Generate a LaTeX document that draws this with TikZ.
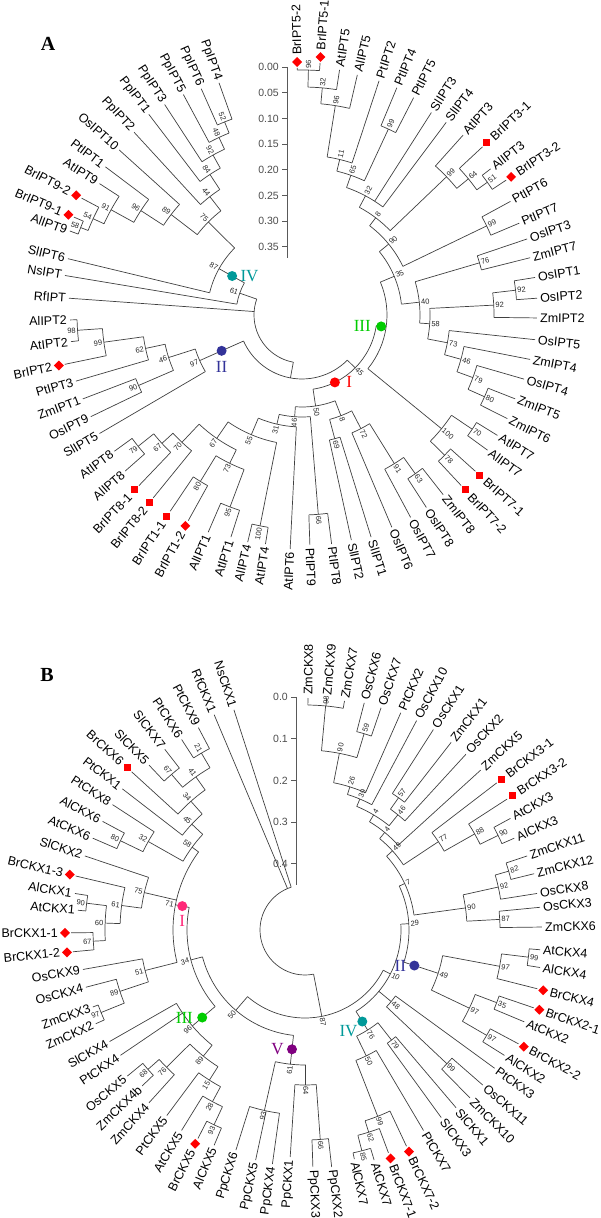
\documentclass[tikz,border=0pt]{standalone}
\usepackage{fontspec}
\setmainfont{Liberation Serif}
\setsansfont{Liberation Sans}
\usetikzlibrary{positioning}

\definecolor{mkred}{RGB}{255,0,0}
\definecolor{cI}{RGB}{255,0,0}
\definecolor{cIb}{RGB}{255,40,120}
\definecolor{cII}{RGB}{51,51,153}
\definecolor{cIII}{RGB}{0,204,0}
\definecolor{cIV}{RGB}{0,153,153}
\definecolor{cV}{RGB}{128,0,128}

\tikzset{
  branch/.style={draw=black!75, line width=0.7pt},
  leaflab/.style={font=\sffamily\fontsize{12.5}{13}\selectfont, inner sep=0pt},
  support/.style={font=\sffamily\fontsize{7.5}{8}\selectfont, inner sep=0.6pt, text=black!85},
  sqmark/.style={fill=mkred, minimum size=7pt, inner sep=0pt},
  dmmark/.style={sqmark, rotate=45},
  groupdot/.style={circle, minimum size=10pt, inner sep=0pt},
  groupnum/.style={font=\rmfamily\fontsize{17}{17}\selectfont, inner sep=0pt},
  panelmark/.style={font=\rmfamily\bfseries\fontsize{20}{20}\selectfont, inner sep=0pt},
  scaleaxis/.style={draw=black!65, line width=0.8pt},
  scalelab/.style={font=\sffamily\fontsize{10.5}{11}\selectfont, text=black!70, anchor=east, inner sep=0pt},
}

% panel centre in image pixels (y down)
\newcommand\pcx{0}
\newcommand\pcy{0}

% \leaf[mark]{id}{x}{y}{text}: label end, mark n/s/d
\newcommand\leaf[5][n]{%
  \pgfmathsetmacro\lfx{#3-\pcx}%
  \pgfmathsetmacro\lfy{\pcy-#4}%
  \pgfmathsetmacro\lfa{atan2(\lfy,\lfx)}%
  \pgfmathsetmacro\lfa{\lfa>100 ? \lfa-360 : \lfa}%
  \pgfmathsetmacro\lfr{veclen(\lfx,\lfy)}%
  \if#1n\pgfmathsetmacro\lft{\lfr-3}\else\pgfmathsetmacro\lft{\lfr-13}\fi
  \expandafter\xdef\csname ang@#2\endcsname{\lfa}%
  \expandafter\xdef\csname rad@#2\endcsname{\lft}%
  \pgfmathtruncatemacro\lfs{\lfa<-90 ? 1 : 0}%
  \ifnum\lfs=1
    \pgfmathsetmacro\lfo{\lfa+180}%
    \node[leaflab, anchor=east, rotate=\lfo] (#2) at (\lfa:\lfr) {#5};
  \else
    \node[leaflab, anchor=west, rotate=\lfa] (#2) at (\lfa:\lfr) {#5};
  \fi
  \if#1s\node[sqmark] (#2m) at (\lfa:\lfr-7) {};\fi
  \if#1d\node[dmmark] (#2m) at (\lfa:\lfr-7) {};\fi
}

% \clade{id}{radius}{children, clockwise}{support value}
\newcommand\clade[4]{%
  \gdef\cfirst{}%
  \foreach \kid in {#3}{%
    \xdef\kida{\csname ang@\kid\endcsname}%
    \xdef\kidr{\csname rad@\kid\endcsname}%
    \draw[branch] (\kida:#2) -- (\kida:\kidr);
    \ifx\cfirst\empty\xdef\cfirst{\kida}\fi
    \xdef\clast{\kida}%
  }%
  \draw[branch] (\cfirst:#2) arc[start angle=\cfirst, end angle=\clast, radius=#2];
  \pgfmathsetmacro\cmid{(\cfirst+\clast)/2}%
  \expandafter\xdef\csname ang@#1\endcsname{\cmid}%
  \expandafter\xdef\csname rad@#1\endcsname{#2}%
  \coordinate (#1) at (\cmid:#2);
  \if\relax\detokenize{#4}\relax\else
    \pgfmathtruncatemacro\cside{\cmid<-90 ? 1 : 0}%
    \ifnum\cside=1
      \pgfmathsetmacro\crot{\cmid+180}%
      \node[support, anchor=east, rotate=\crot] at (\cmid:#2+1) {#4};
    \else
      \node[support, anchor=west, rotate=\cmid] at (\cmid:#2+1) {#4};
    \fi
  \fi
}

\begin{document}
\begin{tikzpicture}[x=1pt, y=1pt]
\useasboundingbox (0,0) rectangle (600,1218);

%% ---------------- panel A ----------------
\node[panelmark] (labA) at (48,1174) {A};
\draw[scaleaxis] (287,1151) -- (287,960);
\foreach \t [count=\k from 0] in {0.00,0.05,0.10,0.15,0.20,0.25,0.30,0.35}{
  \draw[scaleaxis] (282,{1151-25.7*\k}) -- (287,{1151-25.7*\k});
  \node[scalelab] at (279,{1151-25.7*\k}) {\t};
}

\renewcommand\pcx{302}\renewcommand\pcy{315}
\begin{scope}[shift={(302,903)}]
\leaf[d]{a1}{297}{55}{BrIPT5-2}
\leaf[d]{a2}{321}{50}{BrIPT5-1}
\leaf{a3}{340}{67}{AtIPT5}
\leaf{a4}{358}{72}{AlIPT5}
\leaf{a5}{380}{78}{PtIPT2}
\leaf{a6}{398}{85}{PtIPT4}
\leaf{a7}{415}{95}{PtIPT5}
\leaf{a8}{433}{110}{SlIPT3}
\leaf{a9}{448}{120}{SlIPT4}
\leaf{a10}{465}{133}{AtIPT3}
\leaf[s]{a11}{492}{138}{BrIPT3-1}
\leaf{a12}{493}{167}{AlIPT3}
\leaf[d]{a13}{517}{173}{BrIPT3-2}
\leaf{a14}{513}{200}{PtIPT6}
\leaf{a15}{522}{222}{PtIPT7}
\leaf{a16}{530}{238}{OsIPT3}
\leaf{a17}{533}{257}{ZmIPT7}
\leaf{a18}{538}{277}{OsIPT1}
\leaf{a19}{540}{298}{OsIPT2}
\leaf{a20}{540}{318}{ZmIPT2}
\leaf{a21}{538}{340}{OsIPT5}
\leaf{a22}{533}{360}{ZmIPT4}
\leaf{a23}{527}{380}{OsIPT4}
\leaf{a24}{518}{400}{ZmIPT5}
\leaf{a25}{510}{420}{ZmIPT6}
\leaf{a26}{500}{437}{AtIPT7}
\leaf{a27}{490}{452}{AlIPT7}
\leaf[s]{a28}{485}{480}{BrIPT7-1}
\leaf[s]{a29}{470}{495}{BrIPT7-2}
\leaf{a30}{445}{497}{ZmIPT8}
\leaf{a31}{428}{510}{OsIPT8}
\leaf{a32}{412}{520}{OsIPT7}
\leaf{a33}{393}{530}{OsIPT6}
\leaf{a34}{372}{540}{SlIPT1}
\leaf{a35}{352}{543}{SlIPT2}
\leaf{a36}{332}{547}{PtIPT8}
\leaf{a37}{310}{548}{PtIPT9}
\leaf{a38}{290}{552}{AtIPT6}
\leaf{a39}{265}{547}{AtIPT4}
\leaf{a40}{247}{545}{AlIPT4}
\leaf{a41}{230}{540}{AtIPT1}
\leaf{a42}{207}{535}{AlIPT1}
\leaf[d]{a43}{182}{532}{BrIPT1-2}
\leaf[s]{a44}{163}{522}{BrIPT1-1}
\leaf[s]{a45}{145}{508}{BrIPT8-2}
\leaf[s]{a46}{130}{495}{BrIPT8-1}
\leaf{a47}{123}{473}{AlIPT8}
\leaf{a48}{112}{453}{AtIPT8}
\leaf{a49}{97}{435}{SlIPT5}
\leaf{a50}{88}{418}{OsIPT9}
\leaf{a51}{80}{400}{ZmIPT1}
\leaf{a52}{73}{382}{PtIPT3}
\leaf[d]{a53}{52}{367}{BrIPT2}
\leaf{a54}{68}{342}{AtIPT2}
\leaf{a55}{67}{320}{AlIPT2}
\leaf{a56}{66}{298}{RfIPT}
\leaf{a57}{62}{275}{NsIPT}
\leaf{a58}{65}{258}{SlIPT6}
\leaf{a59}{67}{230}{AlIPT9}
\leaf[d]{a60}{62}{212}{BrIPT9-1}
\leaf[d]{a61}{70}{192}{BrIPT9-2}
\leaf{a62}{97}{182}{AtIPT9}
\leaf{a63}{103}{165}{PtIPT1}
\leaf{a64}{117}{148}{OsIPT10}
\leaf{a65}{132}{130}{PpIPT2}
\leaf{a66}{147}{112}{PpIPT1}
\leaf{a67}{163}{102}{PpIPT3}
\leaf{a68}{182}{92}{PpIPT5}
\leaf{a69}{200}{86}{PpIPT6}
\leaf{a70}{218}{80}{PpIPT4}

\clade{p12}{245}{a1,a2}{96}
\clade{p123}{228}{p12,a3}{32}
\clade{p1234}{212}{p123,a4}{96}
\clade{p12345}{160}{p1234,a5}{11}
\clade{p67}{205}{a6,a7}{99}
\clade{pA}{148}{p12345,p67}{65}
\clade{pB}{135}{pA,a8,a9}{32}
\clade{q1213}{228}{a12,a13}{51}
\clade{q1113}{215}{a11,q1213}{64}
\clade{q3}{200}{a10,q1113}{99}
\clade{pC}{122}{pB,q3}{8}
\clade{q1415}{205}{a14,a15}{99}
\clade{pD}{112}{pC,q1415}{90}
\clade{r1617}{185}{a16,a17}{76}
\clade{r1819}{215}{a18,a19}{92}
\clade{r1820}{192}{r1819,a20}{92}
\clade{s80}{200}{a24,a25}{80}
\clade{s79}{182}{a23,s80}{79}
\clade{s46}{165}{a22,s79}{46}
\clade{s73}{148}{a21,s46}{73}
\clade{s58}{128}{r1820,s73}{58}
\clade{n40}{118}{r1617,s58}{40}
\clade{n35}{100}{pD,n40}{35}
\clade{g7a}{205}{a26,a27}{70}
\clade{g7b}{200}{a28,a29}{78}
\clade{g7}{180}{g7a,g7b}{100}
\clade{nIII}{85}{n35,g7}{}
\clade{n63}{195}{a30,a31}{63}
\clade{n91}{175}{n63,a32}{91}
\clade{n72}{128}{n91,a33}{72}
\clade{n69}{128}{a34,a35}{69}
\clade{nIa}{108}{n72,n69}{8}
\clade{n66}{200}{a36,a37}{66}
\clade{n100}{215}{a39,a40}{100}
\clade{n95}{205}{a41,a42}{95}
\clade{n80}{195}{a43,a44}{80}
\clade{n73}{165}{n95,n80}{73}
\clade{n79}{210}{a47,a48}{79}
\clade{n67b}{190}{a46,n79}{67}
\clade{n70}{175}{a45,n67b}{70}
\clade{n67}{150}{n73,n70}{67}
\clade{n55}{130}{n100,n67}{55}
\clade{n31}{112}{a38,n55}{31}
\clade{n46}{102}{n66,n31}{46}
\clade{nI}{92}{nIa,n46}{50}
\clade{n45}{75}{nIII,nI}{45}
\clade{t98}{225}{a54,a55}{98}
\clade{t99}{200}{a53,t98}{99}
\clade{t62}{160}{a52,t99}{62}
\clade{t90}{178}{a50,a51}{90}
\clade{t46}{140}{t90,t62}{46}
\clade{nII}{112}{a49,t46}{97}
\clade{big}{64}{n45,nII}{}
\clade{m58}{238}{a59,a60}{58}
\clade{m54}{230}{m58,a61}{54}
\clade{m91}{218}{m54,a62}{91}
\clade{m96}{192}{m91,a63}{96}
\clade{m89}{165}{m96,a64}{89}
\clade{m52}{208}{a69,a70}{52}
\clade{m48}{196}{a68,m52}{48}
\clade{m92}{183}{a67,m48}{92}
\clade{m84}{168}{a66,m92}{84}
\clade{m44}{150}{a65,m84}{44}
\clade{m75}{132}{m89,m44}{75}
\clade{nIV}{95}{a58,m75}{87}
\clade{n61}{66}{a57,nIV}{61}
\clade{rootA}{48}{big,a56,n61}{}

\edef\gda{\csname ang@nIV\endcsname}
\node[groupdot, fill=cIV] (dotAIV) at (\gda:80) {};
\edef\gda{\csname ang@nII\endcsname}
\node[groupdot, fill=cII] (dotAII) at (\gda:88) {};
\edef\gda{\csname ang@nIII\endcsname}
\node[groupdot, fill=cIII] (dotAIII) at (\gda:80) {};
\node[groupdot, fill=cI] (dotAI) at (-64:75) {};
\end{scope}

\node[groupnum, text=cIV, right=3pt of dotAIV] (numAIV) {IV};
\node[groupnum, text=cII, below=5pt of dotAII] (numAII) {II};
\node[groupnum, text=cIII, left=5pt of dotAIII] (numAIII) {III};
\node[groupnum, text=cI, right=6pt of dotAI] (numAI) {I};

%% ---------------- panel B ----------------
\node[panelmark] (labB) at (47,543) {B};
\draw[scaleaxis] (296,521) -- (296,333);
\foreach \t [count=\k from 0] in {0.0,0.1,0.2,0.3,0.4}{
  \draw[scaleaxis] (291,{521-41.7*\k}) -- (296,{521-41.7*\k});
  \node[scalelab] at (288,{521-41.7*\k}) {\t};
}

\renewcommand\pcx{305}\renewcommand\pcy{930}
\begin{scope}[shift={(305,288)}]
\leaf{b1}{308}{695}{ZmCKX8}
\leaf{b2}{327}{695}{ZmCKX9}
\leaf{b3}{345}{698}{ZmCKX7}
\leaf{b4}{365}{700}{OsCKX6}
\leaf{b5}{382}{705}{OsCKX7}
\leaf{b6}{402}{710}{PtCKX2}
\leaf{b7}{418}{718}{OsCKX10}
\leaf{b8}{435}{727}{OsCKX1}
\leaf{b9}{453}{740}{ZmCKX1}
\leaf{b10}{468}{752}{OsCKX2}
\leaf{b11}{483}{768}{ZmCKX5}
\leaf[s]{b12}{507}{775}{BrCKX3-1}
\leaf[s]{b13}{518}{792}{BrCKX3-2}
\leaf{b14}{513}{817}{AtCKX3}
\leaf{b15}{517}{837}{AlCKX3}
\leaf{b16}{530}{855}{ZmCKX11}
\leaf{b17}{537}{873}{ZmCKX12}
\leaf{b18}{540}{893}{OsCKX8}
\leaf{b19}{543}{907}{OsCKX3}
\leaf{b20}{545}{927}{ZmCKX6}
\leaf{b21}{543}{950}{AtCKX4}
\leaf{b22}{543}{968}{AlCKX4}
\leaf[d]{b23}{550}{992}{BrCKX4}
\leaf[d]{b24}{546}{1012}{BrCKX2-1}
\leaf{b25}{527}{1023}{AtCKX2}
\leaf[d]{b26}{530}{1050}{BrCKX2-2}
\leaf{b27}{507}{1057}{AlCKX2}
\leaf{b28}{497}{1070}{PtCKX3}
\leaf{b29}{485}{1087}{OsCKX11}
\leaf{b30}{472}{1100}{ZmCKX10}
\leaf{b31}{458}{1110}{SlCKX1}
\leaf{b32}{443}{1120}{SlCKX3}
\leaf{b33}{425}{1133}{PtCKX7}
\leaf[d]{b34}{412}{1158}{BrCKX7-2}
\leaf[d]{b35}{393}{1165}{BrCKX7-1}
\leaf{b36}{375}{1163}{AtCKX7}
\leaf{b37}{355}{1162}{AlCKX7}
\leaf{b38}{332}{1170}{PpCKX2}
\leaf{b39}{313}{1170}{PpCKX3}
\leaf{b40}{290}{1160}{PpCKX1}
\leaf{b41}{272}{1167}{PpCKX4}
\leaf{b42}{255}{1163}{PpCKX5}
\leaf{b43}{235}{1153}{PpCKX6}
\leaf{b44}{213}{1148}{AlCKX5}
\leaf[d]{b45}{192}{1150}{BrCKX5}
\leaf{b46}{180}{1133}{AtCKX5}
\leaf{b47}{165}{1118}{PtCKX5}
\leaf{b48}{147}{1105}{ZmCKX4}
\leaf{b49}{140}{1088}{ZmCKX4b}
\leaf{b50}{125}{1078}{OsCKX5}
\leaf{b51}{118}{1057}{PtCKX4}
\leaf{b52}{107}{1043}{SlCKX4}
\leaf{b53}{93}{1025}{ZmCKX2}
\leaf{b54}{90}{1008}{ZmCKX3}
\leaf{b55}{83}{988}{OsCKX4}
\leaf{b56}{80}{970}{OsCKX9}
\leaf[d]{b57}{60}{953}{BrCKX1-2}
\leaf[d]{b58}{58}{933}{BrCKX1-1}
\leaf{b59}{75}{910}{AtCKX1}
\leaf{b60}{72}{893}{AlCKX1}
\leaf[d]{b61}{63}{873}{BrCKX1-3}
\leaf{b62}{82}{855}{SlCKX2}
\leaf{b63}{90}{837}{AtCKX6}
\leaf{b64}{100}{820}{AlCKX6}
\leaf{b65}{110}{803}{PtCKX8}
\leaf{b66}{120}{787}{PtCKX1}
\leaf[s]{b67}{122}{763}{BrCKX6}
\leaf{b68}{147}{763}{SlCKX5}
\leaf{b69}{163}{747}{SlCKX7}
\leaf{b70}{180}{737}{PtCKX6}
\leaf{b71}{197}{725}{PtCKX9}
\leaf{b72}{213}{712}{RfCKX1}
\leaf{b73}{233}{707}{NsCKX1}

\clade{Bn98}{225}{b1,b2,b3}{98}
\clade{Bn59}{205}{b4,b5}{59}
\clade{Bn90a}{180}{Bn98,Bn59}{90}
\clade{Bn26}{150}{Bn90a,b6}{26}
\clade{Bn39}{142}{Bn26,b7}{39}
\clade{Bn57}{162}{b8,b9}{57}
\clade{Bn46}{148}{Bn57,b10}{46}
\clade{Bn4}{134}{Bn39,Bn46}{4}
\clade{Bn7a}{126}{Bn4,b11}{4}
\clade{Bn90c}{215}{b14,b15}{90}
\clade{Bn88}{195}{b13,Bn90c}{88}
\clade{Bn77}{160}{b12,Bn88}{77}
\clade{Bn49a}{118}{Bn7a,Bn77}{49}
\clade{Bn82}{212}{b16,b17}{82}
\clade{Bn92}{198}{Bn82,b18}{92}
\clade{Bn87b}{195}{b19,b20}{87}
\clade{Bn90b}{162}{Bn92,Bn87b}{90}
\clade{Bn7}{110}{Bn49a,Bn90b}{7}
\clade{Bn99a}{225}{b21,b22}{99}
\clade{Bn97a}{198}{Bn99a,b23}{97}
\clade{Bn35}{205}{b24,b25}{35}
\clade{Bn97c}{210}{b26,b27}{97}
\clade{Bn97b}{182}{Bn35,Bn97c}{97}
\clade{Bn49b}{140}{Bn97a,Bn97b}{49}
\clade{Bn29}{104}{Bn7,Bn49b}{29}
\clade{Bn99d}{195}{b29,b30}{99}
\clade{BnX}{112}{b28,Bn99d}{48}
\clade{Bn79}{140}{b31,b32}{79}
\clade{Bn85}{228}{b36,b37}{85}
\clade{Bn62}{212}{b35,Bn85}{62}
\clade{Bn99e}{200}{b34,Bn62}{99}
\clade{Bn50b}{140}{b33,Bn99e}{50}
\clade{BnIV}{118}{Bn79,Bn50b}{76}
\clade{BnR}{96}{Bn29,BnX,BnIV}{10}
\clade{Bn66}{210}{b38,b39}{66}
\clade{Bn64}{155}{Bn66,b40}{64}
\clade{Bn93}{185}{b41,b42,b43}{93}
\clade{BnV}{135}{Bn64,Bn93}{61}
\clade{Bn93c}{215}{b44,b45}{93}
\clade{Bn28}{195}{Bn93c,b46}{28}
\clade{Bn15}{178}{Bn28,b47}{15}
\clade{Bn68}{210}{b49,b50}{68}
\clade{Bn76}{195}{b48,Bn68}{76}
\clade{Bn89}{162}{Bn15,Bn76}{89}
\clade{BnIII}{148}{Bn89,b51,b52}{96}
\clade{Bn97}{220}{b53,b54}{97}
\clade{Bn89b}{195}{Bn97,b55}{89}
\clade{Bn51}{165}{Bn89b,b56}{51}
\clade{Bn67c}{212}{b57,b58}{67}
\clade{Bn90d}{220}{b59,b60}{90}
\clade{Bn60}{200}{Bn67c,Bn90d}{60}
\clade{Bn61}{185}{Bn60,b61}{61}
\clade{Bn75}{165}{Bn61,b62}{75}
\clade{Bn80}{205}{b63,b64}{80}
\clade{Bn32}{180}{Bn80,b65}{32}
\clade{Bn67}{205}{b68,b69}{67}
\clade{Bn21}{205}{b70,b71}{21}
\clade{Bn41}{188}{Bn67,Bn21}{41}
\clade{Bn34a}{172}{b67,Bn41}{34}
\clade{Bn45}{155}{b66,Bn34a}{45}
\clade{Bn58}{140}{Bn32,Bn45}{58}
\clade{BnI}{132}{Bn51,Bn75,Bn58}{71}
\clade{BnIIII}{118}{BnIII,BnI}{34}
\clade{BnL}{106}{BnV,BnIIII}{50}
\clade{Bn87}{88}{BnR,BnL}{87}
\clade{rootB}{45}{Bn87,b72,b73}{}

\edef\gda{\csname ang@BnI\endcsname}
\node[groupdot, fill=cIb] (dotBI) at (\gda:125) {};
\edef\gda{\csname ang@BnIII\endcsname}
\node[groupdot, fill=cIII] (dotBIII) at (\gda:135) {};
\edef\gda{\csname ang@BnV\endcsname}
\node[groupdot, fill=cV] (dotBV) at (\gda:120) {};
\edef\gda{\csname ang@BnIV\endcsname}
\node[groupdot, fill=cIV] (dotBIV) at (\gda:108) {};
\edef\gda{\csname ang@Bn49b\endcsname}
\node[groupdot, fill=cII] (dotBII) at (\gda:115) {};
\end{scope}

\node[groupnum, text=cIb, below=4pt of dotBI] (numBI) {I};
\node[groupnum, text=cIII, left=4pt of dotBIII] (numBIII) {III};
\node[groupnum, text=cV, left=3pt of dotBV] (numBV) {V};
\node[groupnum, text=cIV, below left=0pt and 1pt of dotBIV] (numBIV) {IV};
\node[groupnum, text=cII, left=3pt of dotBII] (numBII) {II};
\end{tikzpicture}
\end{document}
